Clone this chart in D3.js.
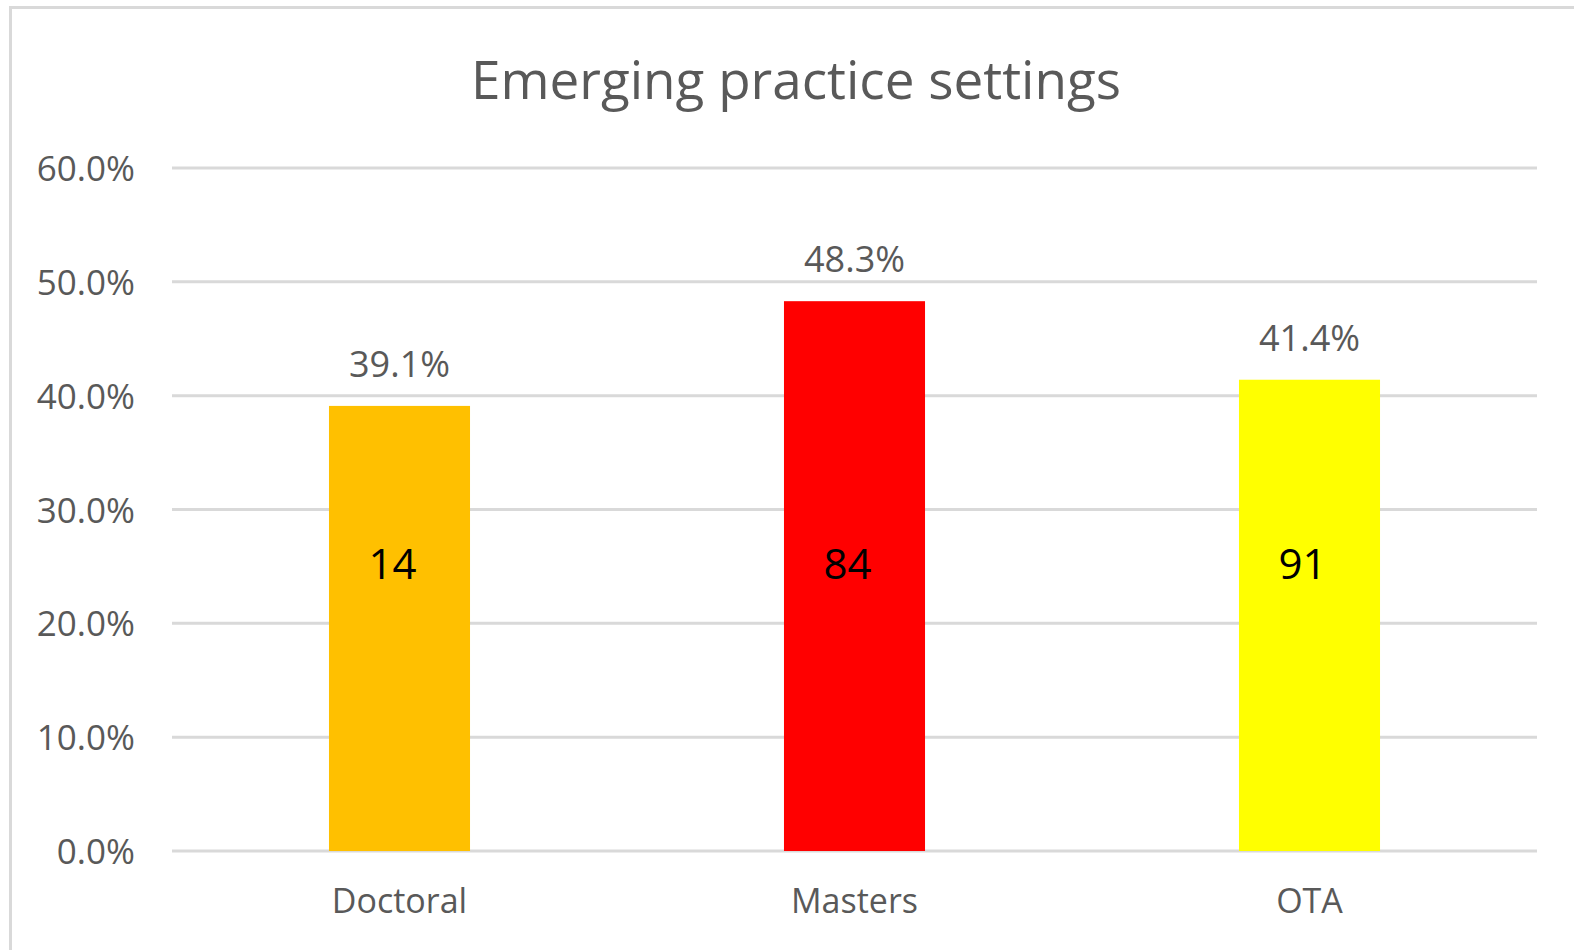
<!DOCTYPE html>
<html>
<head>
<meta charset="utf-8">
<script src="https://cdn.jsdelivr.net/npm/d3@7"></script>
<style>
  body { margin: 0; background: #fff; }
  svg { display: block; font-family: "Open Sans", "Noto Sans", sans-serif; }
</style>
</head>
<body>
<div id="chart"></div>
<script>
var categories = ["Doctoral", "Masters", "OTA"];
var percents = [39.1, 48.3, 41.4];
var counts = [14, 84, 91];
var barColors = ["#FFC000", "#FF0000", "#FFFF00"];
var yTicks = [0, 10, 20, 30, 40, 50, 60];

var width = 1574, height = 950;
var margin = { top: 168, right: 37, bottom: 99, left: 172 };

var svg = d3.select("#chart").append("svg")
    .attr("width", width)
    .attr("height", height);

// outer chart frame (runs off the right and bottom edges)
svg.append("rect")
    .attr("x", 10.5).attr("y", 7.5)
    .attr("width", 1600).attr("height", 1000)
    .attr("fill", "none")
    .attr("stroke", "#d9d9d9")
    .attr("stroke-width", 3);

var x = d3.scaleBand()
    .domain(categories)
    .range([margin.left, width - margin.right])
    .paddingInner(0.69)
    .paddingOuter(0.345);

var y = d3.scaleLinear()
    .domain([0, 60])
    .range([height - margin.bottom, margin.top]);

svg.append("text")
    .attr("x", 796).attr("y", 99)
    .attr("text-anchor", "middle")
    .attr("fill", "#595959")
    .style("font-size", "53px")
    .text("Emerging practice settings");

// gridlines
svg.append("g").selectAll("line")
    .data(yTicks)
    .enter().append("line")
    .attr("x1", margin.left).attr("x2", width - margin.right)
    .attr("y1", function(d) { return y(d); })
    .attr("y2", function(d) { return y(d); })
    .attr("stroke", "#d9d9d9")
    .attr("stroke-width", 3);

// y axis labels
var yAxis = svg.append("g")
    .attr("transform", "translate(" + (margin.left - 37) + ",0)")
    .call(d3.axisLeft(y).tickValues(yTicks).tickSize(0).tickPadding(0)
      .tickFormat(function(d) { return d.toFixed(1) + "%"; }));
yAxis.attr("font-family", null).attr("font-size", null);
yAxis.select(".domain").remove();
yAxis.selectAll("text")
    .attr("fill", "#595959")
    .attr("dy", "0.36em")
    .style("font-size", "35px");

// x axis labels
var xAxis = svg.append("g")
    .attr("transform", "translate(0," + (height - margin.bottom) + ")")
    .call(d3.axisBottom(x).tickSize(0).tickPadding(50));
xAxis.attr("font-family", null).attr("font-size", null);
xAxis.select(".domain").remove();
xAxis.selectAll("text")
    .attr("fill", "#595959")
    .attr("dy", "0.36em")
    .style("font-size", "34px");

// bars
svg.append("g").selectAll("rect")
    .data(categories)
    .enter().append("rect")
    .attr("x", function(d) { return x(d); })
    .attr("width", x.bandwidth())
    .attr("y", function(d, i) { return y(percents[i]); })
    .attr("height", function(d, i) { return y(0) - y(percents[i]); })
    .attr("fill", function(d, i) { return barColors[i]; });

// percent labels above bars
svg.append("g").selectAll("text")
    .data(categories)
    .enter().append("text")
    .attr("x", function(d) { return x(d) + x.bandwidth() / 2; })
    .attr("y", function(d, i) { return y(percents[i]) - 29; })
    .attr("text-anchor", "middle")
    .attr("fill", "#595959")
    .style("font-size", "36px")
    .text(function(d, i) { return percents[i].toFixed(1) + "%"; });

// counts inside bars
svg.append("g").selectAll("text")
    .data(categories)
    .enter().append("text")
    .attr("x", function(d) { return x(d) + x.bandwidth() / 2 - 7; })
    .attr("y", y(25.2))
    .attr("dy", "0.36em")
    .attr("text-anchor", "middle")
    .attr("fill", "#000")
    .style("font-size", "42px")
    .text(function(d, i) { return counts[i]; });
</script>
</body>
</html>
